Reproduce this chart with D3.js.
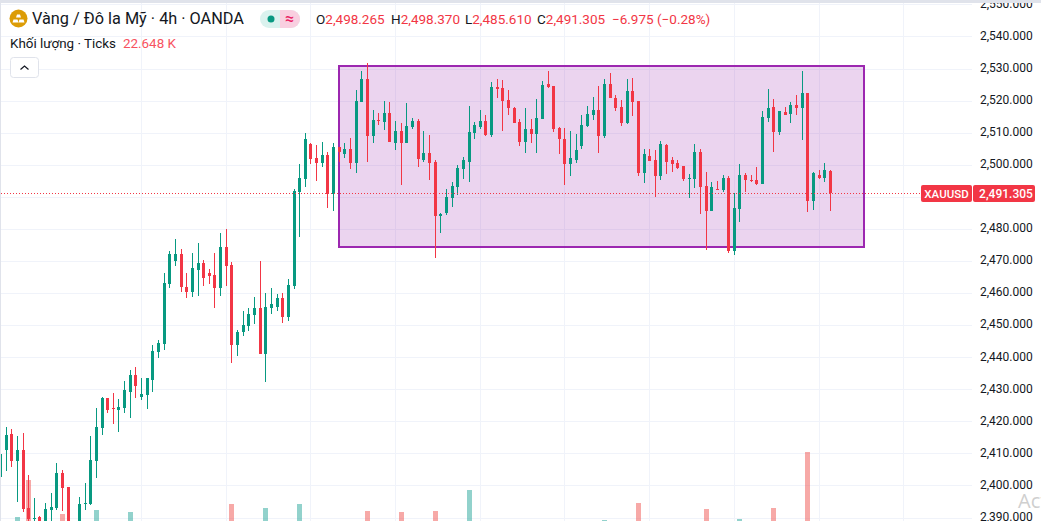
<!DOCTYPE html>
<html>
<head>
<meta charset="utf-8">
<script src="https://cdn.jsdelivr.net/npm/d3@7"></script>
<style>
  html, body { margin: 0; padding: 0; background: #fff; overflow: hidden; }
  svg { display: block; font-family: Roboto, sans-serif; }
</style>
</head>
<body>
<div id="chart"></div>
<script>
const opens = [
  2402.8,2411.2,2416.2,2407.8,2411.2,2393.1,2389.7,2390.3,2386.3,2392.5,
  2393.1,2404.0,2399.7,2384.0,2386.3,2394.4,2394.4,2407.8,2418.1,2427.4,
  2424.3,2423.7,2424.3,2429.3,2434.6,2427.7,2428.3,2433.0,2441.8,2444.3,
  2463.0,2470.1,2472.3,2462.0,2460.5,2467.3,2469.5,2466.4,2465.8,2461.7,
  2474.5,2468.9,2444.0,2448.0,2449.9,2453.3,2455.5,2441.1,2455.5,2455.8,
  2458.6,2452.7,2462.3,2491.6,2495.7,2506.6,2502.3,2500.7,2503.2,2491.0,
  2505.7,2503.5,2505.1,2500.7,2519.7,2526.9,2509.1,2514.1,2513.5,2516.3,
  2506.9,2510.7,2506.9,2511.9,2513.8,2501.6,2503.8,2501.0,2484.2,2485.1,
  2489.8,2493.2,2498.8,2501.0,2510.1,2511.9,2513.8,2509.4,2524.4,2524.1,
  2520.3,2517.8,2513.5,2507.2,2511.3,2509.7,2514.4,2525.3,2524.7,2511.6,
  2508.2,2500.4,2501.6,2506.0,2512.2,2515.7,2517.2,2509.1,2525.3,2521.0,
  2518.2,2513.2,2523.1,2520.0,2497.6,2502.9,2501.6,2496.7,2506.3,2501.6,
  2500.7,2499.8,2495.7,2495.7,2504.1,2493.5,2485.7,2492.6,2492.3,2496.0,
  2473.2,2486.4,2497.0,2495.4,2495.4,2494.1,2514.7,2518.2,2510.4,2516.6,
  2516.0,2518.8,2517.8,2522.5,2488.8,2497.0,2496.0,2498.265
];
const highs = [
  2410.0,2418.4,2417.8,2415.6,2416.5,2403.4,2396.2,2390.6,2394.7,2397.8,
  2407.1,2405.0,2399.7,2386.3,2396.5,2401.0,2415.6,2424.3,2427.7,2427.4,
  2429.0,2427.1,2432.7,2436.1,2437.1,2433.6,2433.6,2444.0,2445.5,2466.4,
  2473.2,2477.0,2473.9,2466.4,2472.6,2475.8,2470.4,2467.6,2472.6,2478.9,
  2480.1,2469.8,2448.6,2454.5,2455.5,2458.9,2470.1,2460.1,2461.7,2459.8,
  2460.1,2464.5,2492.6,2500.4,2510.1,2506.9,2506.3,2507.2,2504.1,2506.9,
  2505.7,2506.9,2508.5,2523.5,2529.4,2531.9,2517.2,2516.3,2520.0,2519.7,
  2513.8,2513.2,2519.4,2514.7,2514.4,2510.7,2509.4,2501.6,2485.1,2492.6,
  2494.8,2500.1,2502.6,2518.5,2513.5,2517.2,2515.7,2526.0,2526.9,2526.6,
  2523.5,2518.2,2514.4,2517.8,2514.4,2520.6,2526.3,2529.4,2524.7,2511.9,
  2511.6,2510.7,2509.7,2515.7,2518.5,2521.3,2524.7,2526.9,2528.7,2521.9,
  2520.3,2526.9,2527.2,2520.0,2505.1,2505.1,2504.8,2507.6,2506.6,2502.6,
  2501.6,2499.8,2497.3,2506.6,2505.1,2497.9,2494.8,2495.1,2497.0,2496.7,
  2491.3,2500.4,2497.6,2497.0,2499.5,2516.9,2523.8,2520.6,2516.9,2518.2,
  2519.7,2521.9,2529.4,2522.5,2497.9,2498.5,2500.7,2498.37
];
const lows = [
  2402.8,2404.6,2405.9,2395.0,2391.9,2387.8,2387.8,2386.3,2384.7,2387.8,
  2392.5,2392.2,2384.7,2382.0,2384.7,2392.5,2394.0,2402.5,2415.9,2422.7,
  2419.3,2416.8,2422.7,2421.2,2427.4,2426.8,2424.0,2429.3,2439.9,2442.4,
  2461.7,2468.6,2460.5,2458.6,2458.9,2459.2,2462.3,2463.0,2455.5,2459.2,
  2462.3,2438.3,2440.5,2446.7,2448.3,2450.5,2441.1,2432.4,2453.6,2454.5,
  2450.8,2451.4,2461.4,2477.6,2493.2,2500.4,2495.1,2499.5,2486.7,2485.7,
  2501.0,2502.3,2498.8,2497.6,2519.7,2501.0,2506.9,2512.5,2511.0,2507.2,
  2504.8,2493.8,2506.9,2511.3,2499.5,2501.0,2495.4,2471.1,2478.9,2484.5,
  2487.0,2490.7,2495.7,2494.8,2508.2,2511.3,2509.1,2508.8,2521.0,2510.7,
  2515.7,2513.2,2506.0,2503.8,2506.9,2503.8,2514.4,2524.1,2510.4,2503.5,
  2493.8,2496.7,2500.7,2505.1,2511.9,2514.1,2503.8,2508.5,2521.0,2516.9,
  2512.2,2512.9,2515.3,2496.7,2494.5,2501.3,2490.1,2495.4,2497.3,2497.9,
  2498.8,2495.1,2489.8,2492.9,2484.8,2473.6,2485.7,2492.3,2491.6,2472.6,
  2472.0,2482.3,2491.6,2494.8,2493.8,2494.1,2513.5,2504.1,2509.4,2515.7,
  2513.2,2515.7,2507.9,2485.4,2486.0,2495.7,2494.8,2485.61
];
const closes = [
  2410.0,2415.9,2407.8,2411.2,2392.8,2389.7,2390.0,2387.8,2392.8,2393.4,
  2404.0,2399.4,2386.3,2386.0,2394.4,2394.7,2408.1,2418.4,2427.4,2423.7,
  2424.0,2424.6,2429.9,2434.6,2431.2,2428.7,2433.6,2442.1,2444.6,2463.3,
  2472.3,2472.3,2462.0,2460.5,2468.0,2469.5,2464.8,2465.5,2461.7,2474.5,
  2468.6,2444.0,2448.0,2450.2,2453.6,2455.5,2441.1,2455.8,2456.7,2458.6,
  2452.7,2462.6,2492.0,2496.0,2508.2,2502.0,2500.7,2503.2,2491.0,2505.7,
  2504.1,2505.1,2500.7,2520.0,2526.9,2509.1,2514.1,2513.8,2516.3,2507.2,
  2510.7,2506.9,2512.2,2513.8,2502.0,2503.8,2500.7,2484.2,2484.8,2490.1,
  2493.5,2499.1,2501.6,2510.4,2512.5,2513.8,2509.4,2524.4,2523.8,2520.0,
  2517.8,2513.2,2507.2,2511.3,2509.7,2514.7,2525.0,2524.4,2511.3,2508.2,
  2500.4,2502.3,2504.8,2512.5,2516.0,2517.2,2509.1,2525.3,2521.0,2517.8,
  2513.2,2523.1,2519.7,2497.6,2503.5,2501.3,2496.7,2506.6,2501.0,2500.4,
  2499.1,2495.7,2496.0,2504.1,2493.2,2485.7,2493.2,2492.3,2496.0,2473.2,
  2486.7,2497.0,2495.4,2495.1,2494.1,2515.0,2517.8,2510.4,2516.9,2515.7,
  2518.8,2517.8,2522.5,2488.8,2497.6,2496.0,2498.5,2491.305
];

// only the volume bars that reach into the visible part of the chart
const volumeCandles = [3, 5, 11, 17, 23, 41, 47, 53, 65, 71, 77, 83, 107, 113, 125, 131, 137, 143, 147];
const volumeValues = [34500, 90000, 39000, 45000, 42000, 54000, 48000, 54000, 43500, 42000, 43500, 75000, 30000, 55500, 46500, 31500, 48000, 132000, 22648];

const priceTicks = [2390, 2400, 2410, 2420, 2430, 2440, 2450, 2460, 2470, 2480, 2490, 2500,
  2510, 2520, 2530, 2540, 2550];
const gridCandles = [25, 40, 55, 70, 85, 100, 115, 130, 145, 160];

const rangeStart = 60;
const rangeEnd = 153;
const rangeTop = 2530.9;
const rangeBottom = 2474.5;
const lastPrice = 2491.305;

const ohlcLegend = [
  { key: "O", value: "2,498.265", x: 316 },
  { key: "H", value: "2,498.370", x: 391 },
  { key: "L", value: "2,485.610", x: 465 },
  { key: "C", value: "2,491.305", x: 537 },
];

const width = 1041;
const height = 521;
const plotRight = 972;
const green = "#089981";
const red = "#f23645";
const gridColor = "#f0f3fa";
const textColor = "#131722";

const x = d3.scaleLinear().domain([0, 147]).range([0.45, 830.3]);
const y = d3.scaleLinear().domain([2390, 2550]).range([518, 4.9]);
const volumeY = d3.scaleLinear().domain([0, 132000]).range([540, 452]);
const col = (i) => Math.floor(x(i));

const candles = opens.map((o, i) => ({
  i,
  o,
  h: highs[i],
  l: lows[i],
  c: closes[i],
}));
const candleColor = (d) => (d.c >= d.o ? green : red);

const svg = d3
  .select("#chart")
  .append("svg")
  .attr("width", width)
  .attr("height", height)
  .attr("viewBox", [0, 0, width, height]);

svg.append("rect").attr("width", width).attr("height", height).attr("fill", "#fff");

svg
  .append("defs")
  .append("clipPath")
  .attr("id", "plotClip")
  .append("rect")
  .attr("x", 1)
  .attr("y", 0)
  .attr("width", plotRight - 1)
  .attr("height", height);

const plot = svg.append("g").attr("clip-path", "url(#plotClip)");

plot
  .append("g")
  .selectAll("line")
  .data(priceTicks)
  .join("line")
  .attr("x1", 1)
  .attr("x2", plotRight)
  .attr("y1", (d) => Math.floor(y(d)) + 0.5)
  .attr("y2", (d) => Math.floor(y(d)) + 0.5)
  .attr("stroke", gridColor);

plot
  .append("g")
  .selectAll("line")
  .data(gridCandles)
  .join("line")
  .attr("x1", (d) => col(d) + 0.5)
  .attr("x2", (d) => col(d) + 0.5)
  .attr("y1", 0)
  .attr("y2", height)
  .attr("stroke", gridColor);

// volume sits behind the candles
plot
  .append("g")
  .selectAll("rect")
  .data(volumeCandles)
  .join("rect")
  .attr("x", (d) => col(d) - 2)
  .attr("width", 5)
  .attr("y", (d, k) => Math.round(volumeY(volumeValues[k])))
  .attr("height", (d, k) => volumeY(0) - Math.round(volumeY(volumeValues[k])))
  .attr("fill", (d) => (closes[d] >= opens[d] ? "#26a69a" : "#ef5350"))
  .attr("fill-opacity", 0.5);

// trading range box
plot
  .append("rect")
  .attr("x", col(rangeStart))
  .attr("y", Math.round(y(rangeTop)))
  .attr("width", col(rangeEnd) - col(rangeStart))
  .attr("height", Math.round(y(rangeBottom)) - Math.round(y(rangeTop)))
  .attr("fill", "#9c27b0")
  .attr("fill-opacity", 0.2)
  .attr("stroke", "#9c27b0")
  .attr("stroke-width", 2);

plot
  .append("g")
  .selectAll("rect")
  .data(candles)
  .join("rect")
  .attr("x", (d) => col(d.i))
  .attr("width", 1)
  .attr("y", (d) => Math.round(y(d.h)))
  .attr("height", (d) => Math.max(1, Math.round(y(d.l)) - Math.round(y(d.h))))
  .attr("fill", candleColor);

plot
  .append("g")
  .selectAll("rect")
  .data(candles)
  .join("rect")
  .attr("x", (d) => col(d.i) - 1)
  .attr("width", 3)
  .attr("y", (d) => Math.round(y(Math.max(d.o, d.c))))
  .attr("height", (d) => Math.max(1, Math.round(y(Math.min(d.o, d.c))) - Math.round(y(Math.max(d.o, d.c)))))
  .attr("fill", candleColor);

plot
  .append("line")
  .attr("x1", 1)
  .attr("x2", 921)
  .attr("y1", Math.floor(y(lastPrice)) + 0.5)
  .attr("y2", Math.floor(y(lastPrice)) + 0.5)
  .attr("stroke", red)
  .attr("stroke-dasharray", "1 2");

// 2,490 is covered by the last price label, so it gets no text
const axis = d3
  .axisRight(y)
  .tickValues(priceTicks.filter((d) => d !== 2490))
  .tickSize(0)
  .tickPadding(0)
  .tickFormat(d3.format(",.3f"));

svg
  .append("g")
  .attr("transform", "translate(980,-1.5)")
  .call(axis)
  .call((g) => g.select(".domain").remove())
  .selectAll("text")
  .attr("font-family", "Roboto, sans-serif")
  .attr("font-size", 12)
  .attr("fill", textColor);

// last price label
const lastY = Math.floor(y(lastPrice));
svg
  .append("rect")
  .attr("x", 921)
  .attr("y", lastY - 8)
  .attr("width", 51)
  .attr("height", 17)
  .attr("rx", 2)
  .attr("fill", red);
svg
  .append("rect")
  .attr("x", 973)
  .attr("y", lastY - 8)
  .attr("width", 62)
  .attr("height", 17)
  .attr("rx", 2)
  .attr("fill", red);
svg
  .append("text")
  .attr("x", 946.5)
  .attr("y", lastY + 4.5)
  .attr("text-anchor", "middle")
  .attr("font-size", 11.5)
  .attr("font-weight", 500)
  .attr("fill", "#fff")
  .text("XAUUSD");
svg
  .append("text")
  .attr("x", 1006)
  .attr("y", lastY + 4.5)
  .attr("text-anchor", "middle")
  .attr("font-size", 12)
  .attr("font-weight", 500)
  .attr("fill", "#fff")
  .text(d3.format(",.3f")(lastPrice));

// window chrome
svg.append("rect").attr("width", width).attr("height", 3).attr("fill", "#e0e3eb");
svg.append("rect").attr("width", 1).attr("height", height).attr("fill", "#e0e3eb");

// gold icon
const icon = svg.append("g").attr("transform", "translate(18.5,18.5)");
icon.append("circle").attr("r", 9).attr("fill", "#dc9c06");
icon.append("path").attr("d", "M-2.5,-1 L-1.5,-4 H1.5 L2.5,-1 Z").attr("fill", "#fff");
icon.append("path").attr("d", "M-6,4 L-5,1 H-1 L0,4 Z").attr("fill", "#fff");
icon.append("path").attr("d", "M0,4 L1,1 H5 L6,4 Z").attr("fill", "#fff");

svg
  .append("text")
  .attr("x", 32)
  .attr("y", 24)
  .attr("font-size", 16.3)
  .attr("fill", textColor)
  .text("Vàng / Đô la Mỹ · 4h · OANDA");

// market status pill
svg.append("rect").attr("x", 260).attr("y", 10).attr("width", 40).attr("height", 18).attr("rx", 9).attr("fill", "#daf2ee");
svg.append("path").attr("d", "M280,10 H291 A9,9 0 0 1 291,28 H280 Z").attr("fill", "#f9cfe0");
svg.append("circle").attr("cx", 271).attr("cy", 19).attr("r", 3.5).attr("fill", "#089981");
svg
  .append("text")
  .attr("x", 289.5)
  .attr("y", 24)
  .attr("text-anchor", "middle")
  .attr("font-size", 16)
  .attr("font-weight", 500)
  .attr("fill", "#e91e63")
  .text("≈");

const legend = svg.append("g").attr("font-size", 13.5);
ohlcLegend.forEach((d) => {
  const t = legend.append("text").attr("x", d.x).attr("y", 24);
  t.append("tspan").attr("fill", textColor).text(d.key);
  t.append("tspan").attr("fill", red).text(d.value);
});
legend.append("text").attr("x", 612).attr("y", 24).attr("fill", red).text("−6.975 (−0.28%)");

svg
  .append("text")
  .attr("x", 10)
  .attr("y", 48)
  .attr("font-size", 13.4)
  .attr("fill", textColor)
  .text("Khối lượng · Ticks");
svg
  .append("text")
  .attr("x", 123)
  .attr("y", 48)
  .attr("font-size", 13.4)
  .attr("fill", "#f7525f")
  .text("22.648 K");

// collapse button
svg
  .append("rect")
  .attr("x", 10.5)
  .attr("y", 57.5)
  .attr("width", 28)
  .attr("height", 20)
  .attr("rx", 3)
  .attr("fill", "#fff")
  .attr("stroke", "#e0e3eb");
svg
  .append("path")
  .attr("d", "M20.5,69.5 L24.5,66 L28.5,69.5")
  .attr("fill", "none")
  .attr("stroke", textColor)
  .attr("stroke-width", 1.2);

svg
  .append("text")
  .attr("x", 1018)
  .attr("y", 508)
  .attr("font-family", "'Open Sans', sans-serif")
  .attr("font-size", 20)
  .attr("fill", "#cfcfcf")
  .text("Act");
</script>
</body>
</html>
